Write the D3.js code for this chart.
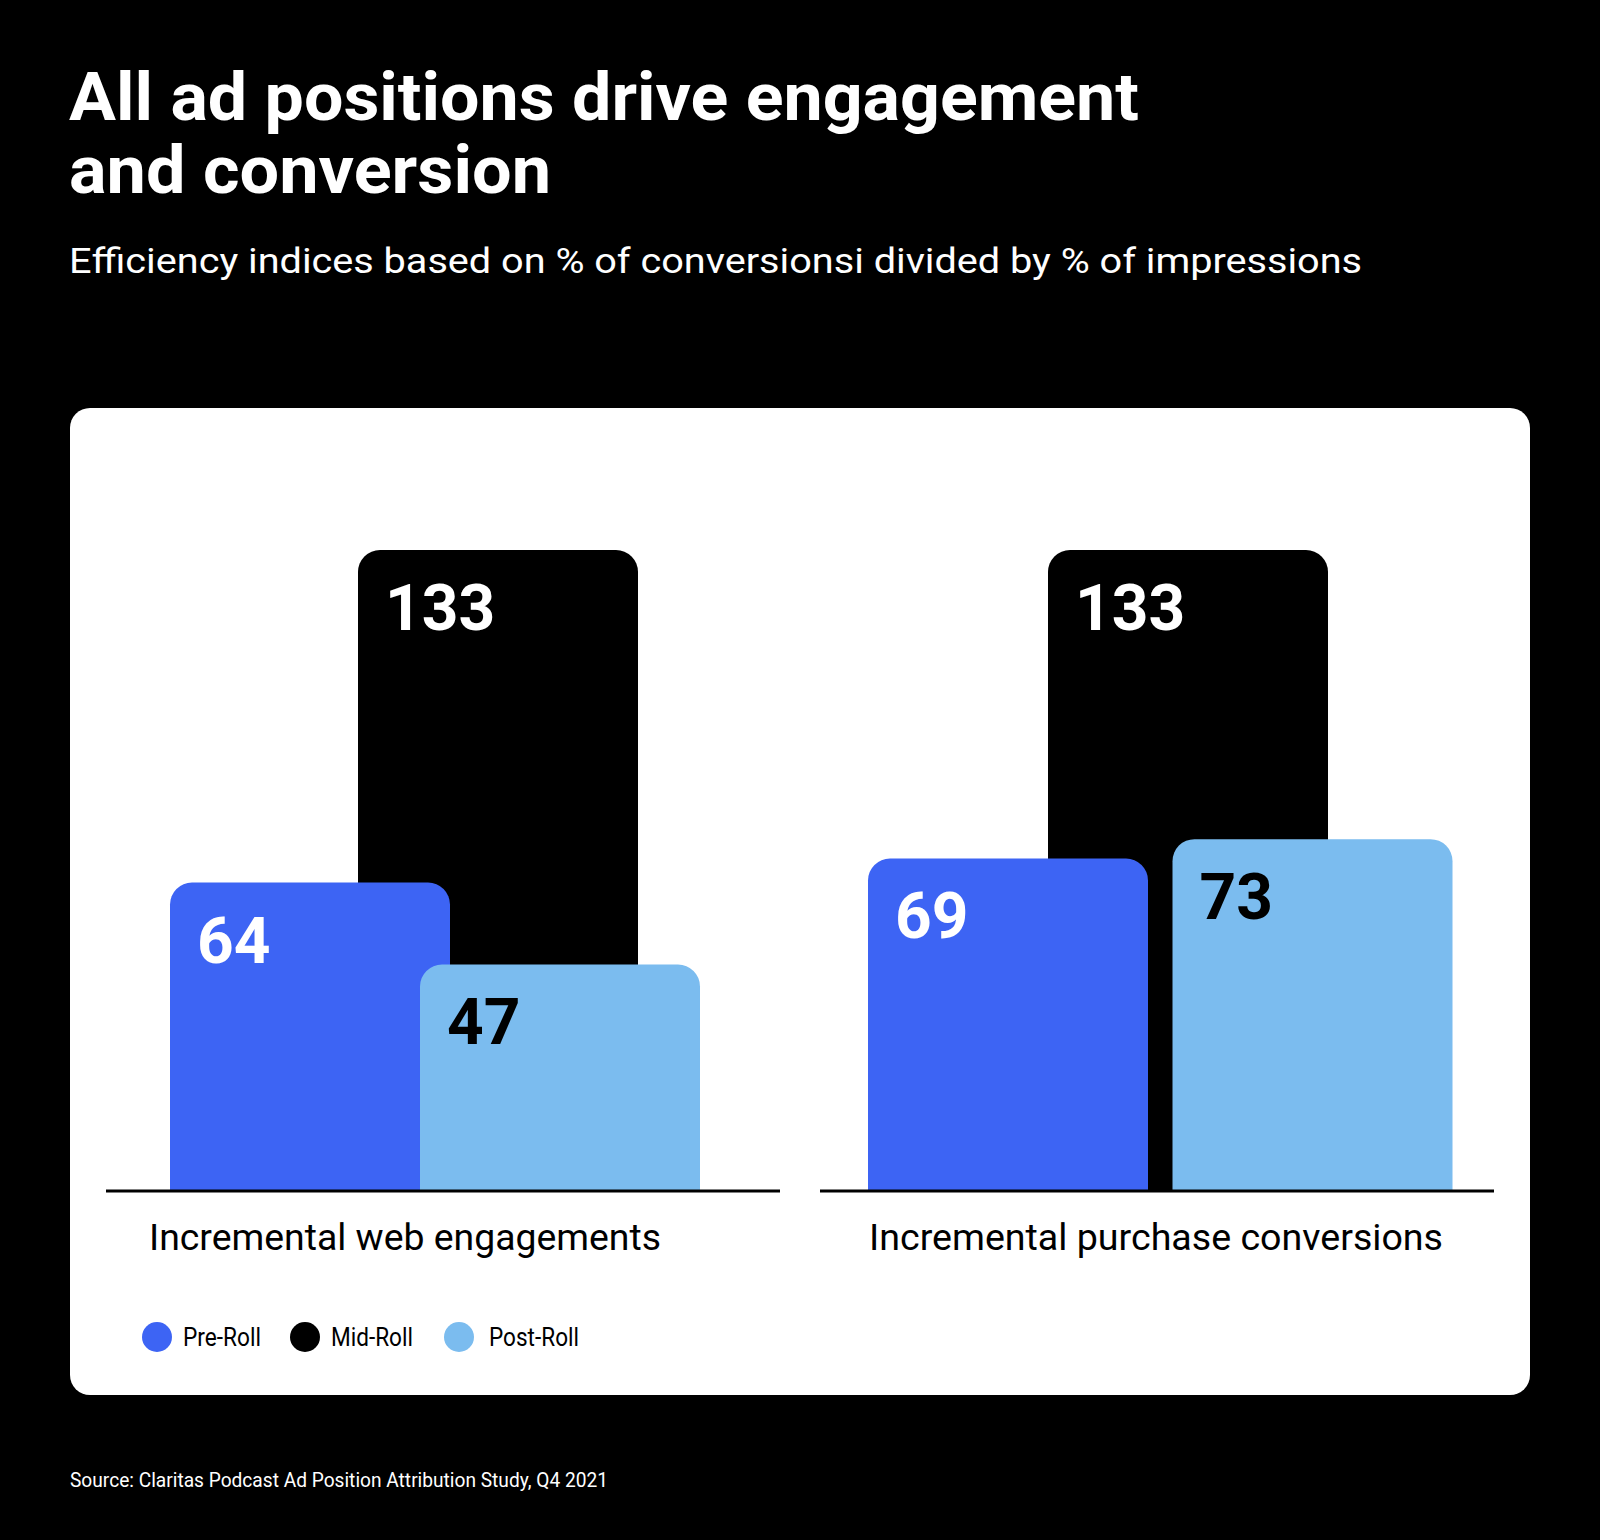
<!DOCTYPE html>
<html>
<head>
<meta charset="utf-8">
<script src="https://cdn.jsdelivr.net/npm/d3@7"></script>
<style>
  html, body { margin: 0; padding: 0; background: #000; }
  svg { display: block; }
</style>
</head>
<body>
<svg id="chart" width="1600" height="1540"></svg>
<script>
// ---- data ----
const categories = ["Incremental web engagements", "Incremental purchase conversions"];
const series = ["Pre-Roll", "Mid-Roll", "Post-Roll"];
const preRoll = [64, 69];
const midRoll = [133, 133];
const postRoll = [47, 73];
const titleLines = ["All ad positions drive engagement", "and conversion"];
const subtitle = "Efficiency indices based on % of conversionsi divided by % of impressions";
const source = "Source: Claritas Podcast Ad Position Attribution Study, Q4 2021";

// ---- styles / layout ----
const colors = { "Pre-Roll": "#3D64F4", "Mid-Roll": "#000000", "Post-Roll": "#7BBCEF" };
const labelColors = { "Pre-Roll": "#ffffff", "Mid-Roll": "#ffffff", "Post-Roll": "#000000" };
const FONT = "Roboto, 'Noto Sans', sans-serif";
const baseY = 1191;
const barW = 280;
const radius = 22;
// bar offsets inside each group band (layout)
const barOffsets = [
  { "Pre-Roll": 64, "Mid-Roll": 252, "Post-Roll": 314 },
  { "Pre-Roll": 48, "Mid-Roll": 228, "Post-Roll": 352.5 }
];
const catLabelOffset = [43, 49];
const catLabelWidth = [512, 574];

const svg = d3.select("#chart");
svg.append("rect").attr("width", 1600).attr("height", 1540).attr("fill", "#000");

function fitText(sel, w) {
  sel.attr("textLength", w).attr("lengthAdjust", "spacingAndGlyphs");
}

// title
const titleY = [120, 193];
titleLines.forEach((t, i) => {
  const el = svg.append("text")
    .attr("x", 69).attr("y", titleY[i])
    .attr("fill", "#fff")
    .attr("font-family", FONT).attr("font-weight", 700).attr("font-size", 67)
    .text(t);
  fitText(el, i === 0 ? 1070 : 482);
});
fitText(svg.append("text")
  .attr("x", 69).attr("y", 273)
  .attr("fill", "#fff")
  .attr("font-family", FONT).attr("font-size", 35)
  .text(subtitle), 1293);

// card
svg.append("rect")
  .attr("x", 70).attr("y", 408).attr("width", 1460).attr("height", 987)
  .attr("rx", 20).attr("fill", "#fff");

// scales
const y = d3.scaleLinear().domain([0, 133]).range([baseY, 550]);
const x0 = d3.scaleBand().domain(categories).range([106, 1494]).paddingInner(40 / 714).paddingOuter(0);

const values = { "Pre-Roll": preRoll, "Mid-Roll": midRoll, "Post-Roll": postRoll };
const drawOrder = ["Mid-Roll", "Pre-Roll", "Post-Roll"];

function topRoundedRect(x, yTop, w, h, r) {
  const p = d3.path();
  p.moveTo(x, yTop + h);
  p.lineTo(x, yTop + r);
  p.arcTo(x, yTop, x + r, yTop, r);
  p.lineTo(x + w - r, yTop);
  p.arcTo(x + w, yTop, x + w, yTop + r, r);
  p.lineTo(x + w, yTop + h);
  p.closePath();
  return p.toString();
}

categories.forEach((cat, gi) => {
  const g = svg.append("g");
  const gx = x0(cat);
  drawOrder.forEach(s => {
    const v = values[s][gi];
    const bx = gx + barOffsets[gi][s];
    const top = y(v);
    g.append("path")
      .attr("d", topRoundedRect(bx, top, barW, baseY - top, radius))
      .attr("fill", colors[s]);
    g.append("text")
      .attr("x", bx + 27).attr("y", top + 80)
      .attr("fill", labelColors[s])
      .attr("font-family", FONT).attr("font-weight", 700).attr("font-size", 64)
      .text(v);
  });
  // baseline axis
  g.append("line")
    .attr("x1", gx).attr("x2", gx + x0.bandwidth())
    .attr("y1", baseY).attr("y2", baseY)
    .attr("stroke", "#000").attr("stroke-width", 3);
  fitText(g.append("text")
    .attr("x", gx + catLabelOffset[gi]).attr("y", 1250)
    .attr("fill", "#000")
    .attr("font-family", FONT).attr("font-size", 37)
    .text(cat), catLabelWidth[gi]);
});

// legend
const legendX = [157, 305, 459];
const legendTextX = [183, 331, 489];
const legendW = [78, 82, 90];
series.forEach((s, i) => {
  svg.append("circle").attr("cx", legendX[i]).attr("cy", 1337).attr("r", 15).attr("fill", colors[s]);
  fitText(svg.append("text")
    .attr("x", legendTextX[i]).attr("y", 1346)
    .attr("fill", "#000")
    .attr("font-family", FONT).attr("font-size", 25)
    .text(s), legendW[i]);
});

// source
fitText(svg.append("text")
  .attr("x", 70).attr("y", 1487)
  .attr("fill", "#fff")
  .attr("font-family", FONT).attr("font-size", 20)
  .text(source), 538);
</script>
</body>
</html>
